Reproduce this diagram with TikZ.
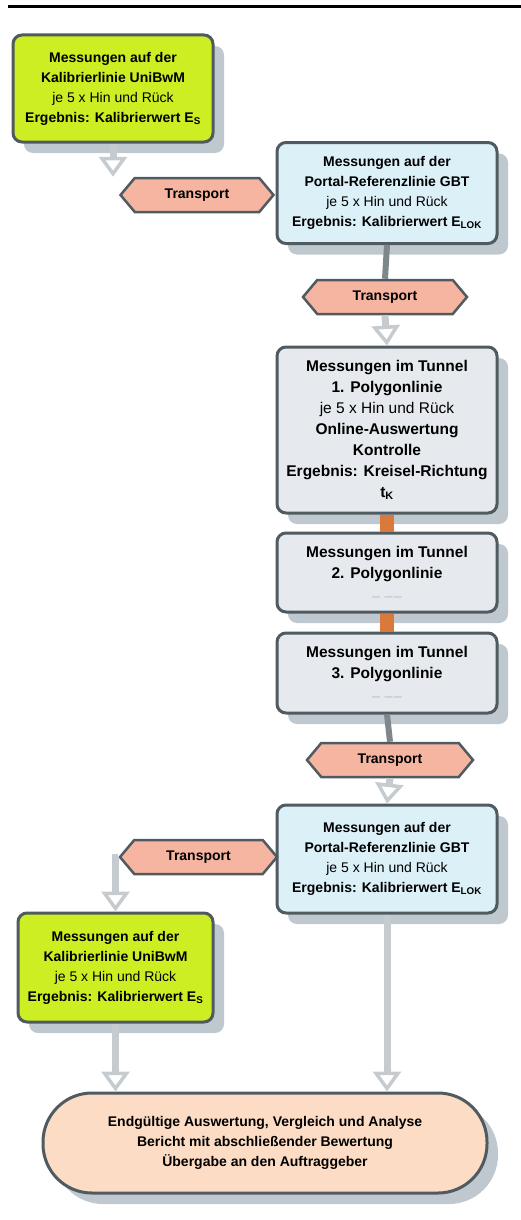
\documentclass[tikz,border=0pt]{standalone}
\usepackage{fontspec}
\setmainfont{Liberation Sans}
\usetikzlibrary{shapes.symbols, shadows, arrows.meta}

\definecolor{frame}{HTML}{4F5B60}
\definecolor{kalgreen}{HTML}{CCEE22}
\definecolor{portblue}{HTML}{DCF0F8}
\definecolor{tunnelgray}{HTML}{E6EAEE}
\definecolor{salmon}{HTML}{F5B5A0}
\definecolor{peach}{HTML}{FCDCC4}
\definecolor{linkgray}{HTML}{C5CBCF}
\definecolor{feedgray}{HTML}{7D878C}
\definecolor{chainorange}{HTML}{D97A3C}
\definecolor{shade}{HTML}{A9B6BE}

\tikzset{
  box/.style={draw=frame, line width=3pt, rounded corners=9pt, align=center,
    font=\bfseries\fontsize{14}{20}\selectfont, inner sep=2pt,
    drop shadow={shadow xshift=11pt, shadow yshift=-11pt, fill=shade, opacity=0.75}},
  kalbox/.style={box, fill=kalgreen},
  portbox/.style={box, fill=portblue, minimum width=220pt},
  tunbox/.style={box, fill=tunnelgray, minimum width=220pt,
    font=\bfseries\fontsize{15.5}{21}\selectfont},
  transport/.style={signal, signal to=west and east, signal pointer angle=100,
    draw=frame, line width=2.5pt, fill=salmon, inner sep=1pt,
    font=\bfseries\fontsize{14}{16}\selectfont, minimum height=34pt},
  flow/.style={draw=linkgray, line width=7pt,
    -{Triangle[open, length=20pt, width=28pt, line width=3.5pt]}},
  feed/.style={draw=feedgray, line width=6pt},
  chain/.style={draw=chainorange, line width=14pt}
}

\newcommand{\hinrueck}{{\mdseries je 5 x Hin und Rück}}
\newcommand{\blank}{{\color{gray!80}\mdseries\fontsize{8}{9}\selectfont --- \ ---\,---}}

\begin{document}
\begin{tikzpicture}[x=1pt, y=-1pt]
    \useasboundingbox (0,0) rectangle (521,1220);

    % Rule
    \draw[line width=3pt] (8,7) -- (521,7);

    % Calibration line (start)
    \node[kalbox, minimum width=200pt, minimum height=107pt] (kalib1) at (113,88.5)
      {Messungen auf der\\Kalibrierlinie UniBwM\\\hinrueck\\Ergebnis: Kalibrierwert E\textsubscript{S}};

    % Portal reference line (start)
    \node[portbox, minimum height=101pt] (portal1) at (387,193)
      {Messungen auf der\\Portal-Referenzlinie GBT\\\hinrueck\\Ergebnis: Kalibrierwert E\textsubscript{LOK}};
    \node[transport, minimum width=153pt] (trans1) at (197,195) {Transport};
    \node[transport, minimum width=164pt] (trans2) at (385,297) {Transport};

    % Tunnel
    \node[tunbox, minimum height=166pt] (tunnel1) at (387,430)
      {Messungen im Tunnel\\1. Polygonlinie\\\hinrueck\\Online-Auswertung\\Kontrolle\\Ergebnis: Kreisel-Richtung\\t\textsubscript{K}};
    \node[tunbox, minimum height=79pt] (tunnel2) at (387,572.5)
      {Messungen im Tunnel\\2. Polygonlinie\\\blank};
    \node[tunbox, minimum height=80pt] (tunnel3) at (387,673)
      {Messungen im Tunnel\\3. Polygonlinie\\\blank};
    \node[transport, minimum width=166pt] (trans3) at (390,760) {Transport};

    % Portal reference line (end)
    \node[portbox, minimum height=108pt] (portal2) at (387,859)
      {Messungen auf der\\Portal-Referenzlinie GBT\\\hinrueck\\Ergebnis: Kalibrierwert E\textsubscript{LOK}};
    \node[transport, minimum width=157pt] (trans4) at (198.5,857) {Transport};

    % Calibration line (end)
    \node[kalbox, minimum width=195pt, minimum height=109pt] (kalib2) at (115.5,967.5)
      {Messungen auf der\\Kalibrierlinie UniBwM\\\hinrueck\\Ergebnis: Kalibrierwert E\textsubscript{S}};

    % Final evaluation
    \node[box, fill=peach, rounded corners=49pt, minimum width=444pt, minimum height=100pt] (final) at (265,1143)
      {Endgültige Auswertung, Vergleich und Analyse\\Bericht mit abschließender Bewertung\\Übergabe an den Auftraggeber};

    % Connectors
    \draw[flow] (kalib1.south) -- (kalib1.south |- trans1.north);
    \draw[feed] (portal1.south) -- (trans2.north);
    \draw[flow] (trans2.south) -- (tunnel1.north);
    \draw[chain] (tunnel1.south) -- (tunnel2.north);
    \draw[chain] (tunnel2.south) -- (tunnel3.north);
    \draw[feed] (tunnel3.south) -- (trans3.north);
    \draw[flow] (trans3.south) -- (portal2.north);
    \draw[flow] (trans4.west) -| (kalib2.north);
    \draw[flow] (kalib2.south) -- (kalib2.south |- final.north);
    \draw[flow] (portal2.south) -- (portal2.south |- final.north);
\end{tikzpicture}
\end{document}
